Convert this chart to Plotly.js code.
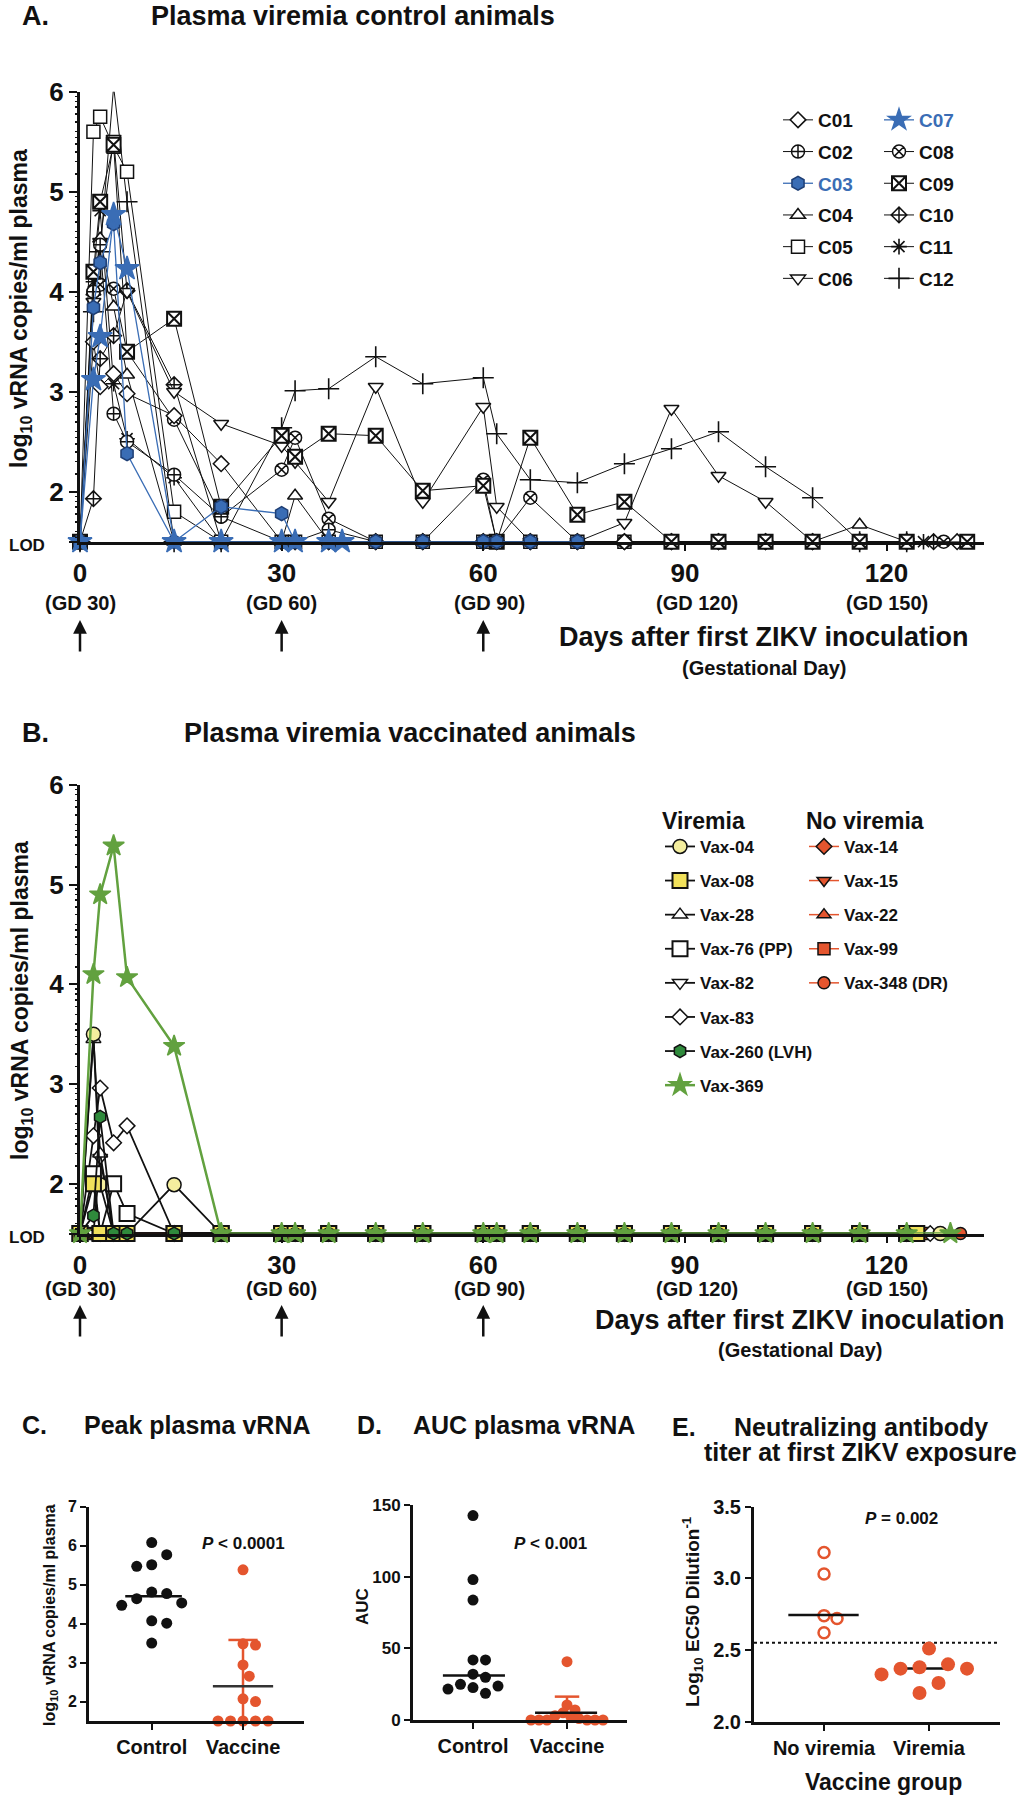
<!DOCTYPE html>
<html><head><meta charset="utf-8">
<script src="https://cdn.plot.ly/plotly-3.0.1.min.js"></script>
<style>html,body{margin:0;padding:0;background:#fff;}#chart{width:1025px;height:1800px;}</style>
</head><body><div id="chart"></div>
<script>
// ---------------- DATA ----------------
const L = 1.5; // limit of detection (log10 copies/ml)
const sampleDays = [0,2,3,5,7,14,21,30,32,37,44,51,60,62,67,74,81,88,95,102,109,116,123];
const xTickVals = [0,30,60,90,120];
const gdLabels = ['(GD 30)','(GD 60)','(GD 90)','(GD 120)','(GD 150)'];
const inoculationDays = [0,30,60];

// Panel A: control animals (values on sampleDays, last value at the animal's end day)
const controlNames = ['C01','C02','C03','C04','C05','C06','C07','C08','C09','C10','C11','C12'];
const controlEndDays = [130.5,123,74,123,123,123,39,128.5,132,127,125.5,123];
const c01 = [L,3.50,3.05,3.18,2.98,2.76,2.28,L,L,L,L,L,L,L,L,L,L,L,L,L,L,L,L,L];
const c02 = [L,4.00,4.47,2.78,2.50,2.17,1.75,L,L,1.62,L,L,L,L,L,L,L,L,L,L,L,L,L];
const c03 = [L,3.84,4.29,4.68,2.38,L,1.85,1.78,L,L,L,L,L,L,L,L];
const c04 = [L,4.00,4.53,3.85,3.17,L,L,L,1.96,L,L,L,L,L,L,L,L,L,L,L,L,1.67,L];
const c05 = [L,5.60,5.75,5.45,5.20,1.80,L,L,L,L,L,L,L,L,L,L,L,L,L,L,L,L,L];
const c06 = [L,3.90,4.50,5.53,4.00,3.00,2.68,2.46,2.30,1.90,3.05,1.90,2.85,1.85,L,L,1.69,2.83,2.16,1.90,L,L,L];
const c07 = [L,3.12,3.55,4.77,4.23,L,L,L,L,L,L];
const c08 = [L,4.00,4.07,4.03,3.40,2.72,1.75,2.22,2.54,1.73,L,L,2.12,L,1.94,L,L,L,L,L,L,L,L,L];
const c09 = [L,4.20,4.90,5.47,3.40,3.73,1.85,2.56,2.35,2.58,2.56,2.01,2.06,L,2.54,1.77,1.90,L,L,L,L,L,L,L];
const c10 = [L,1.93,3.33,3.56,4.01,3.07,L,L,L,L,L,L,L,L,L,L,L,L,L,L,L,L,L,L];
const c11 = [L,4.10,4.81,3.08,2.53,2.14,L,L,L,L,L,L,L,L,L,L,L,L,L,L,L,L,L,L];
const c12 = [L,3.80,4.40,6.05,4.90,L,L,2.64,3.01,3.03,3.35,3.08,3.14,2.58,2.12,2.09,2.28,2.43,2.60,2.25,1.94,L,L];
const controlValues = [c01,c02,c03,c04,c05,c06,c07,c08,c09,c10,c11,c12];

// Panel B: vaccinated animals
const vaxViremiaNames = ['Vax-04','Vax-08','Vax-28','Vax-76 (PP)','Vax-82','Vax-83','Vax-260 (LVH)','Vax-369'];
const vaxViremiaEndDays = [128,124.5,123,123,123,126.5,123,129.5];
const v04  = [L,3.50,1.99,L,L,1.99,L,L,L,L,L,L,L,L,L,L,L,L,L,L,L,L,L,L];
const v08  = [L,2.00,L,L,L,L,L,L,L,L,L,L,L,L,L,L,L,L,L,L,L,L,L,L];
const v28  = [L,3.45,2.30,L,L,L,L,L,L,L,L,L,L,L,L,L,L,L,L,L,L,L,L];
const v76  = [L,2.10,L,2.00,1.70,L,L,L,L,L,L,L,L,L,L,L,L,L,L,L,L,L,L];
const v82  = [L,L,2.26,L,L,L,L,L,L,L,L,L,L,L,L,L,L,L,L,L,L,L,L];
const v83  = [L,2.48,2.96,2.41,2.58,L,L,L,L,L,L,L,L,L,L,L,L,L,L,L,L,L,L,L];
const v260 = [L,1.68,2.67,L,L,L,L,L,L,L,L,L,L,L,L,L,L,L,L,L,L,L,L];
const v369 = [L,4.10,4.90,5.39,4.07,3.38,L,L,L,L,L,L,L,L,L,L,L,L,L,L,L,L,L,L];
const vaxViremiaValues = [v04,v08,v28,v76,v82,v83,v260,v369];

const vaxNoViremiaNames = ['Vax-14','Vax-15','Vax-22','Vax-99','Vax-348 (DR)'];
const vaxNoViremiaEndDays = [123,123,123,125.5,131];
const v14  = [L,L,L,L,L,L,L,L,L,L,L,L,L,L,L,L,L,L,L,L,L,L,L];
const v15  = [L,L,L,L,L,L,L,L,L,L,L,L,L,L,L,L,L,L,L,L,L,L,L];
const v22  = [L,L,L,L,L,L,L,L,L,L,L,L,L,L,L,L,L,L,L,L,L,L,L];
const v99  = [L,L,L,L,L,L,L,L,L,L,L,L,L,L,L,L,L,L,L,L,L,L,L,L];
const v348 = [L,L,L,L,L,L,L,L,L,L,L,L,L,L,L,L,L,L,L,L,L,L,L,L];
const vaxNoViremiaValues = [v14,v15,v22,v99,v348];

// Panel C: peak plasma vRNA
const groupLabelsCD = ['Control','Vaccine'];
const peakControl = [6.08,5.77,5.51,5.47,4.81,4.77,4.64,4.53,4.47,4.07,4.01,3.50];
const peakVaccine = [5.38,3.48,3.45,2.94,2.65,2.07,2.00,L,L,L,L,L];
const peakControlMedian = 4.70, peakVaccineCenter = 2.39, peakVaccineUpper = 3.58;

// Panel D: AUC plasma vRNA
const aucControl = [142.6,98,83.7,41.9,41.9,32,29.8,24.9,23.7,22.6,21.6,18.6];
const aucVaccine = [40.7,10.5,7,5,3,2,1,0,0,0,0,0,0];
const aucControlCenter = 31, aucVaccineCenter = 5.1, aucVaccineUpper = 16.3;

// Panel E: neutralizing antibody titer
const groupLabelsE = ['No viremia','Viremia'];
const nabNoViremia = [3.18,3.03,2.74,2.72,2.62];
const nabViremia = [2.51,2.40,2.38,2.37,2.37,2.33,2.27,2.20];
const nabNoViremiaMedian = 2.744, nabViremiaMedian = 2.372, nabThreshold = 2.55;

// ---------------- STYLE / LAYOUT ----------------
const FONT = 'Liberation Sans, Arial, Helvetica, sans-serif';
const INK = '#111111', BLUE = '#3a6db5', ORANGE = '#e4552e', GREEN = '#62a13f',
      DKGREEN = '#2f8a3c', PALEY = '#f4ee9e', YEL = '#f1e15b';
const W = 1025, H = 1800;
const P = x => x / W, Q = y => 1 - y / H;
const f = (size, extra) => Object.assign({family: FONT, size, color: INK, weight: 'bold'}, extra || {});

function timeline(vals, end) { const d = sampleDays.slice(0, vals.length - 1); d.push(end); return d; }

const controlStyle = {
  C01:{symbol:'diamond', size:12}, C02:{symbol:'circle-cross', size:13},
  C03:{symbol:'hexagon', size:14, fill:BLUE, edge:'#1f3f75', line:BLUE},
  C04:{symbol:'triangle-up', size:13}, C05:{symbol:'square', size:13},
  C06:{symbol:'triangle-down', size:13}, C07:{symbol:'star', size:18, fill:BLUE, edge:BLUE, line:BLUE},
  C08:{symbol:'circle-x', size:13}, C09:{symbol:'square-x', size:14, lw:2},
  C10:{symbol:'diamond-cross', size:12}, C11:{symbol:'asterisk-open', size:13, open:true},
  C12:{symbol:'cross-thin-open', size:15, open:true}
};
const controlDrawOrder = ['C12','C11','C10','C08','C06','C05','C04','C02','C01','C09','C03','C07'];

const vaxStyle = {
  'Vax-04':{symbol:'circle', size:14, fill:PALEY}, 'Vax-08':{symbol:'square', size:15, fill:YEL, mw:2},
  'Vax-28':{symbol:'triangle-up', size:13}, 'Vax-76 (PP)':{symbol:'square', size:15, mw:2},
  'Vax-82':{symbol:'triangle-down', size:13}, 'Vax-83':{symbol:'diamond', size:12},
  'Vax-260 (LVH)':{symbol:'hexagon', size:13, fill:DKGREEN},
  'Vax-369':{symbol:'star', size:16, fill:GREEN, edge:GREEN, line:GREEN, lw:2.5},
  'Vax-14':{symbol:'diamond', size:12, fill:ORANGE, line:ORANGE},
  'Vax-15':{symbol:'triangle-down', size:12, fill:ORANGE, line:ORANGE},
  'Vax-22':{symbol:'triangle-up', size:12, fill:ORANGE, line:ORANGE},
  'Vax-99':{symbol:'square', size:12, fill:ORANGE, line:ORANGE},
  'Vax-348 (DR)':{symbol:'circle', size:12, fill:ORANGE, line:ORANGE}
};

const traces = [];
function lineTrace(name, label, x, y, s, axes, legend, rank, lw) {
  return {type:'scatter', mode:'lines+markers', x, y, name:label, xaxis:axes[0], yaxis:axes[1],
    legend, legendgroup:name, legendrank:rank, cliponaxis:false, hoverinfo:'skip',
    line:{color:s.line || INK, width:s.lw && s.line ? s.lw : lw},
    marker:{symbol:s.symbol, size:s.size, color:s.open ? INK : (s.fill || 'white'),
            line:{color:s.edge || INK, width:s.mw || (s.open ? 1.6 : (s.lw && !s.line ? s.lw : 1.5))}}};
}

// Panel A traces
controlDrawOrder.forEach(name => {
  const i = controlNames.indexOf(name);
  const s = controlStyle[name];
  const label = (name === 'C03' || name === 'C07') ? '<span style="color:' + BLUE + '">' + name + '</span>' : name;
  traces.push(lineTrace(name, label, timeline(controlValues[i], controlEndDays[i]), controlValues[i], s,
    ['x','y'], i < 6 ? 'legend' : 'legend2', i + 1, name === 'C03' || name === 'C07' ? 1.3 : 1));
});

// Panel B traces
vaxNoViremiaNames.forEach((name, i) => {
  traces.push(lineTrace(name, name, timeline(vaxNoViremiaValues[i], vaxNoViremiaEndDays[i]), vaxNoViremiaValues[i],
    vaxStyle[name], ['x2','y2'], 'legend4', i + 1, 1.5));
});
['Vax-82','Vax-28','Vax-83','Vax-04','Vax-76 (PP)','Vax-08','Vax-260 (LVH)','Vax-369'].forEach(name => {
  const i = vaxViremiaNames.indexOf(name);
  traces.push(lineTrace(name, name, timeline(vaxViremiaValues[i], vaxViremiaEndDays[i]), vaxViremiaValues[i],
    vaxStyle[name], ['x2','y2'], 'legend3', i + 1, 1.8));
});

// Beeswarm offsets for dot plots (computed in pixel space)
function swarm(vals, pxPerY, pxPerX, dia) {
  const idx = vals.map((_, i) => i).sort((a, b) => vals[b] - vals[a]);
  const placed = [], off = vals.map(() => 0);
  idx.forEach(i => {
    const y = vals[i] * pxPerY;
    for (let k = 0; k < 80; k++) {
      const c = (k === 0 ? 0 : (k % 2 ? 1 : -1) * Math.ceil(k / 2)) * dia / 2;
      if (placed.every(p => Math.hypot(p.x - c, p.y - y) >= dia - 0.01)) { placed.push({x:c, y}); off[i] = c / pxPerX; return; }
    }
  });
  return off;
}
function dots(vals, center, pxY, pxX, dia, axes, marker) {
  const o = swarm(vals, pxY, pxX, dia);
  return {type:'scatter', mode:'markers', x:vals.map((v, i) => center + o[i]), y:vals, xaxis:axes[0], yaxis:axes[1],
    showlegend:false, hoverinfo:'skip', cliponaxis:false, marker};
}
function seg(x, y, axes, color, width, dash) {
  return {type:'scatter', mode:'lines', x, y, xaxis:axes[0], yaxis:axes[1], showlegend:false, hoverinfo:'skip',
    cliponaxis:false, line:{color, width, dash:dash || 'solid'}};
}

// Panel C
traces.push(seg([1,1],[L,peakVaccineUpper],['x3','y3'],ORANGE,2.5));
traces.push(seg([0.84,1.16],[peakVaccineUpper,peakVaccineUpper],['x3','y3'],ORANGE,2.5));
traces.push(dots(peakControl, 0, 39.2, 91.3, 15, ['x3','y3'], {size:11, color:INK}));
traces.push(dots(peakVaccine, 1, 39.2, 91.3, 12.5, ['x3','y3'], {size:11, color:ORANGE}));
traces.push(seg([-0.29,0.33],[peakControlMedian,peakControlMedian],['x3','y3'],INK,2.5));
traces.push(seg([0.67,1.33],[peakVaccineCenter,peakVaccineCenter],['x3','y3'],'#333',2.5));

// Panel D
traces.push(seg([1,1],[aucVaccineCenter,aucVaccineUpper],['x4','y4'],ORANGE,2.5));
traces.push(seg([0.87,1.13],[aucVaccineUpper,aucVaccineUpper],['x4','y4'],ORANGE,2.5));
traces.push(dots(aucControl, 0, 1.433, 94, 12.5, ['x4','y4'], {size:11, color:INK}));
traces.push(dots(aucVaccine, 1, 1.433, 94, 8, ['x4','y4'], {size:11, color:ORANGE}));
traces.push(seg([-0.32,0.34],[aucControlCenter,aucControlCenter],['x4','y4'],INK,2.5));
traces.push(seg([0.66,1.32],[aucVaccineCenter,aucVaccineCenter],['x4','y4'],INK,2.5));

// Panel E
traces.push(seg([-0.667,1.676],[nabThreshold,nabThreshold],['x5','y5'],INK,2,'dot'));
traces.push(seg([0.79,1.22],[nabViremiaMedian,nabViremiaMedian],['x5','y5'],INK,2.5));
traces.push(dots(nabNoViremia, 0, 143.3, 105, 13, ['x5','y5'], {size:11, color:'white', line:{color:ORANGE, width:2.5}}));
traces.push(dots(nabViremia, 1, 143.3, 105, 19, ['x5','y5'], {size:14, color:ORANGE}));
traces.push(seg([-0.34,0.33],[nabNoViremiaMedian,nabNoViremiaMedian],['x5','y5'],INK,2.5));

// Axes
function ax(extra) {
  return Object.assign({showline:true, linecolor:INK, linewidth:3, ticks:'outside', tickcolor:INK, tickwidth:2,
    ticklen:6, showgrid:false, zeroline:false, fixedrange:true, tickfont:f(16)}, extra);
}
const minorLog = [];
for (let n = 1; n < 6; n++) [1.5,2,2.5,3,3.5,4,5,6,7,8,9].forEach(k => {
  const v = n + Math.log10(k); if (v > L + 0.02 && v < 6) minorLog.push(v);
});
const lodText = '<span style="font-size:17px">LOD\u00a0\u00a0\u00a0\u00a0</span>';
const timeY = (dom, anchor) => ax({domain:dom, range:[L,6], anchor, tickvals:[L,2,3,4,5,6],
  ticktext:[lodText,'2','3','4','5','6'], ticklen:8, tickfont:f(26)});
// overlay axis carrying only the small log-spaced tick marks
const minorY = (over, anchor) => ({overlaying:over, anchor, side:'left', range:[L,6], showline:false, showgrid:false,
  zeroline:false, fixedrange:true, ticks:'outside', ticklen:4, tickwidth:1.5, tickcolor:INK, tickvals:minorLog,
  showticklabels:false});
const timeX = (anchor) => ax({domain:[P(80),P(984)], range:[0,134.5], anchor, tickvals:xTickVals, tickfont:f(26), ticklen:6});

const ann = [];
function txt(text, x, y, size, extra) {
  ann.push(Object.assign({text, x:P(x), y:Q(y), xref:'paper', yref:'paper', showarrow:false, font:f(size),
    xanchor:'center', yanchor:'middle'}, extra || {}));
}
// Titles
txt('A.', 20, 16, 27, {xanchor:'left'});
txt('Plasma viremia control animals', 353, 16, 27);
txt('B.', 20, 733, 27, {xanchor:'left'});
txt('Plasma viremia vaccinated animals', 410, 733, 27);
txt('C.', 20, 1425, 25, {xanchor:'left'});
txt('Peak plasma vRNA', 197, 1425, 25);
txt('D.', 355, 1425, 25, {xanchor:'left'});
txt('AUC plasma vRNA', 524, 1425, 25);
txt('E.', 670, 1427, 25, {xanchor:'left'});
txt('Neutralizing antibody', 861, 1427, 25);
txt('titer at first ZIKV exposure', 860, 1452, 25);
// axis titles
txt('log<sub>10</sub> vRNA copies/ml plasma', 21, 309, 23, {textangle:-90});
txt('log<sub>10</sub> vRNA copies/ml plasma', 21, 1001, 23, {textangle:-90});
txt('Days after first ZIKV inoculation', 764, 637, 27);
txt('(Gestational Day)', 764, 668, 20);
txt('Days after first ZIKV inoculation', 800, 1320, 27);
txt('(Gestational Day)', 800, 1350, 20);
txt('log<sub>10</sub> vRNA copies/ml plasma', 50, 1615, 16, {textangle:-90});
txt('AUC', 362, 1607, 17, {textangle:-90});
txt('Log<sub>10</sub> EC50 Dilution<sup>-1</sup>', 692, 1612, 19, {textangle:-90});
txt('Vaccine group', 883, 1782, 23);
txt('<i>P</i> < 0.0001', 243, 1543, 17);
txt('<i>P</i> = 0.002', 901, 1518, 17);
txt('<i>P</i> < 0.001', 550, 1543, 17);
// Gestational-day labels
const gdShift = [0,0,6,12,0];
[[603,'x'],[1289,'x2']].forEach(([yy, xr]) => {
  xTickVals.forEach((d, i) => ann.push({text:gdLabels[i], x:d, xref:xr, y:Q(yy), yref:'paper', xshift:gdShift[i],
    showarrow:false, font:f(20), xanchor:'center', yanchor:'middle'}));
});
// Inoculation arrows
[[620,'x'],[1305,'x2']].forEach(([tip, xr]) => {
  inoculationDays.forEach(d => ann.push({text:'', x:d, xref:xr, y:Q(tip), yref:'paper', showarrow:true,
    ax:0, ay:33, arrowhead:2, arrowsize:1.1, arrowwidth:2.5, arrowcolor:INK}));
});

const legendBase = {xanchor:'left', yanchor:'top', bgcolor:'rgba(0,0,0,0)', borderwidth:0, itemclick:false,
  itemdoubleclick:false, traceorder:'grouped'};

const layout = {
  width:W, height:H, margin:{l:0, r:0, t:0, b:0}, paper_bgcolor:'white', plot_bgcolor:'rgba(0,0,0,0)',
  font:f(16), hovermode:false, showlegend:true,
  xaxis: timeX('y'),
  yaxis: timeY([Q(541.7), Q(91.7)], 'x'),
  xaxis2: timeX('y2'),
  yaxis2: timeY([Q(1233.5), Q(785)], 'x2'),
  yaxis6: minorY('y', 'x'),
  yaxis7: minorY('y2', 'x2'),
  xaxis3: ax({domain:[P(89),P(304)], range:[-0.687,1.668], anchor:'y3', tickvals:[0,1], ticktext:groupLabelsCD, tickfont:f(20)}),
  yaxis3: ax({domain:[Q(1721),Q(1506.7)], range:[L,7], anchor:'x3', tickvals:[2,3,4,5,6,7], tickfont:f(16)}),
  xaxis4: ax({domain:[P(413),P(627)], range:[-0.638,1.638], anchor:'y4', tickvals:[0,1], ticktext:groupLabelsCD, tickfont:f(20)}),
  yaxis4: ax({domain:[Q(1720),Q(1505)], range:[0,150], anchor:'x4', tickvals:[0,50,100,150], tickfont:f(17)}),
  xaxis5: ax({domain:[P(754),P(1000)], range:[-0.667,1.676], anchor:'y5', tickvals:[0,1], ticktext:groupLabelsE, tickfont:f(20)}),
  yaxis5: ax({domain:[Q(1721.7),Q(1506.7)], range:[2,3.5], anchor:'x5', tickvals:[2,2.5,3,3.5], tickformat:'.1f', tickfont:f(20)}),
  legend:  Object.assign({}, legendBase, {x:P(778), y:Q(101), font:f(19), tracegroupgap:4}),
  legend2: Object.assign({}, legendBase, {x:P(879), y:Q(101), font:f(19), tracegroupgap:4}),
  legend3: Object.assign({}, legendBase, {x:P(660), y:Q(799), font:f(17), tracegroupgap:9,
            title:{text:'Viremia', font:f(23), side:'top'}}),
  legend4: Object.assign({}, legendBase, {x:P(804), y:Q(799), font:f(17), tracegroupgap:9,
            title:{text:'No viremia', font:f(23), side:'top'}}),
  annotations: ann
};

// empty traces so the overlay tick axes are instantiated
traces.push({type:'scatter', mode:'markers', x:[], y:[], xaxis:'x', yaxis:'y6', showlegend:false, hoverinfo:'skip'});
traces.push({type:'scatter', mode:'markers', x:[], y:[], xaxis:'x2', yaxis:'y7', showlegend:false, hoverinfo:'skip'});

Plotly.newPlot('chart', traces, layout, {displayModeBar:false, staticPlot:true});
</script>
</body></html>
